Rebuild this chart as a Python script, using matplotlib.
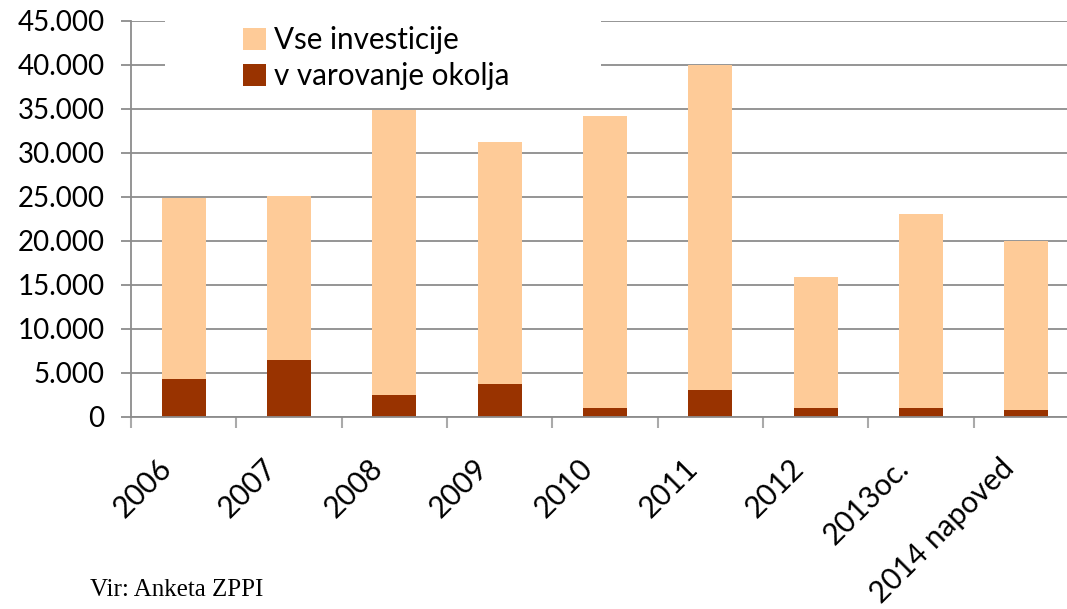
import numpy as np
import matplotlib
matplotlib.use("Agg")
import matplotlib.pyplot as plt
from matplotlib.patches import Rectangle
import matplotlib.transforms as mtransforms

# podatki (v tisoc EUR)
leta = ['2006', '2007', '2008', '2009', '2010', '2011', '2012', '2013oc.', '2014 napoved']
vse_investicije = [24800, 25100, 34800, 31200, 34200, 40000, 15800, 23000, 20000]
varovanje_okolja = [4300, 6400, 2400, 3750, 950, 3000, 950, 950, 750]

svetla = '#FECB98'
temna = '#993300'
siva = '#8c8c8c'

plt.rcParams['font.family'] = ['Lato', 'DejaVu Sans']

fig = plt.figure(figsize=(10.67, 6.09), dpi=100)
ax = fig.add_axes([131 / 1067, 192.5 / 609, 948 / 1067, 396 / 609])

x = np.arange(len(leta))
w = 0.42
ax.bar(x, vse_investicije, width=w, color=svetla, zorder=2, label='Vse investicije')
ax.bar(x, varovanje_okolja, width=w, color=temna, zorder=3, label='v varovanje okolja')

ax.set_xlim(-0.5, len(leta) - 0.5)
ax.set_ylim(0, 45000)
ax.set_yticks(np.arange(0, 45001, 5000))
ax.set_yticklabels(['0' if v == 0 else '{:,}'.format(v).replace(',', '.') for v in range(0, 45001, 5000)],
                   fontsize=20)
ax.yaxis.grid(True, color=siva, linewidth=1.3, zorder=0)
ax.set_axisbelow(True)

# kljukice med kategorijami
ax.set_xticks(np.arange(-0.5, len(leta), 1))
ax.set_xticklabels([])
ax.tick_params(axis='x', which='major', length=8, color='#aaaaaa', width=1.5)
ax.set_xticks(x, minor=True)
ax.set_xticklabels(leta, minor=True, fontsize=21.5, rotation=45, ha='right', va='center',
                   rotation_mode='anchor')
ax.tick_params(axis='x', which='minor', length=0, pad=34)
offset = mtransforms.ScaledTranslation(-12 / 72, 0, fig.dpi_scale_trans)
for lab in ax.xaxis.get_minorticklabels():
    lab.set_transform(lab.get_transform() + offset)

ax.tick_params(axis='y', length=7, color=siva, width=1.3, pad=12)
for s in ['top', 'right']:
    ax.spines[s].set_visible(False)
for s in ['left', 'bottom']:
    ax.spines[s].set_color(siva)
    ax.spines[s].set_linewidth(1.3)
    ax.spines[s].set_zorder(4)

# bela podlaga za legendo
ax.add_patch(Rectangle((0.036, 0.82), 0.46, 0.2, transform=ax.transAxes, facecolor='white',
                       edgecolor='none', zorder=1, clip_on=False))
ax.legend(loc='upper left', bbox_to_anchor=(0.118, 0.985), frameon=False, fontsize=21.3,
          handlelength=0.78, handleheight=0.75, handletextpad=0.27, labelspacing=0.27,
          borderpad=0, borderaxespad=0)

fig.text(90 / 1067, 1 - 590 / 609, 'Vir: Anketa ZPPI', fontsize=18,
         family=['Liberation Serif', 'DejaVu Serif'], va='center')

fig.savefig('out.png', dpi=100)
